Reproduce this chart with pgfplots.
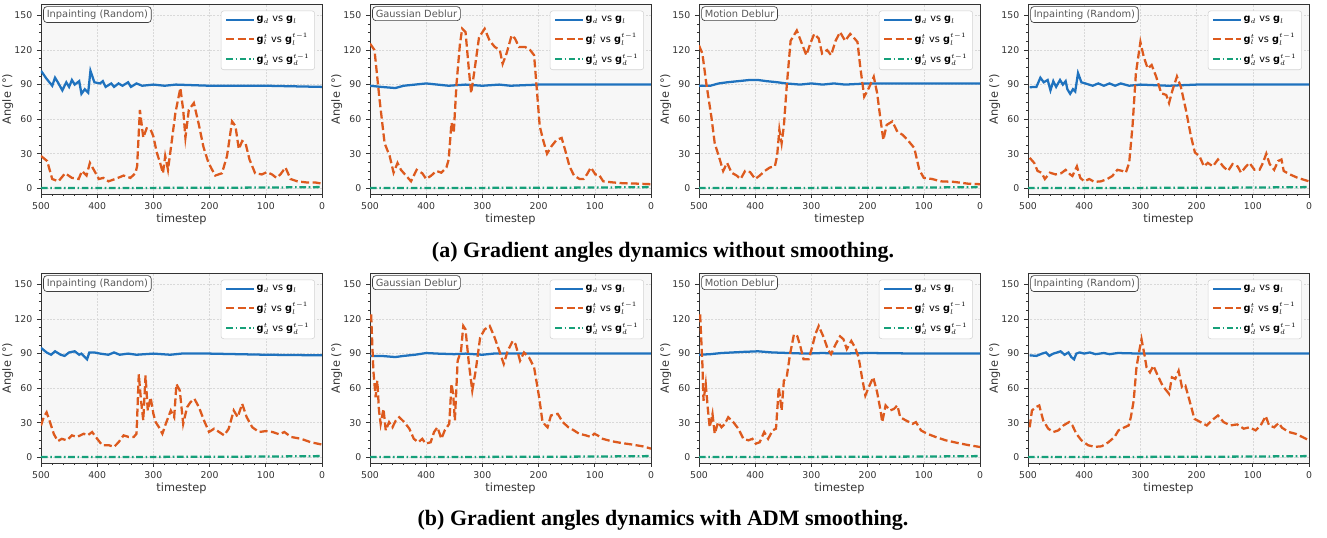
\documentclass[border=0pt]{standalone}
\usepackage{pgfplots}
\pgfplotsset{compat=1.18}
\usepackage{fontspec}
\setmainfont{DejaVu Sans}
\newfontfamily\capfont{Liberation Serif}
\definecolor{cblue}{HTML}{1F72BE}
\definecolor{corange}{HTML}{DD5A1E}
\definecolor{cgreen}{HTML}{16A07A}
\definecolor{axbg}{HTML}{F7F7F7}
\definecolor{tickc}{HTML}{333333}
\pgfplotsset{
  panel/.style={
    scale only axis, width=210.75pt, height=142.5pt,
    xmin=0, xmax=500, x dir=reverse, ymin=-5, ymax=160,
    xtick={0,100,...,500}, ytick={0,30,...,150},
    minor x tick num=4, minor y tick num=3,
    tick align=outside, tick pos=left,
    major tick length=3pt, minor tick length=1.6pt,
    every tick/.style={tickc, line width=0.5pt},
    axis line style={tickc, line width=0.6pt},
    axis background/.style={fill=axbg},
    grid=major, major grid style={gray!30, dash pattern=on 1.5pt off 1pt, line width=0.4pt},
    ticklabel style={font=\fontsize{7}{8}\selectfont, text=tickc},
    /pgf/number format/assume math mode=true,
    xlabel={timestep}, ylabel={Angle (°)},
    label style={font=\fontsize{8.5}{9}\selectfont, text=tickc},
    xlabel shift=-4pt, ylabel shift=-6pt,
    legend style={at={(0.975,0.965)}, anchor=north east, font=\fontsize{7.3}{8}\selectfont,
      draw=gray!35, rounded corners=2pt, fill=white, row sep=5.2pt, inner sep=3pt,
      legend cell align=left, nodes={inner sep=1pt}},
    legend image code/.code={\draw[#1] (0pt,0pt) -- (21pt,0pt);},
  },
  sblue/.style={cblue, line width=1.7pt, solid},
  sorange/.style={corange, line width=1.7pt, dash pattern=on 6pt off 2.6pt},
  sgreen/.style={cgreen, line width=1.7pt, dash pattern=on 5pt off 2pt on 1.2pt off 2pt},
}
\newcommand{\greenline}{\addplot[sgreen] coordinates {(500,0.2)(450,0.2)(400,0.25)(350,0.3)(300,0.3)(250,0.35)(200,0.4)(150,0.5)(100,0.6)(50,0.8)(0,1)};}
\newcommand{\leg}{\legend{$\mathbf{g}_d$ vs $\mathbf{g}_l$, $\mathbf{g}_l^t$ vs $\mathbf{g}_l^{t-1}$, $\mathbf{g}_d^t$ vs $\mathbf{g}_d^{t-1}$}}
\newcommand{\ttl}[1]{\node[anchor=north west, draw=black!75, rounded corners=2.5pt, fill=white, text=black!65, font=\fontsize{7.4}{8}\selectfont, inner sep=2.4pt, line width=0.5pt] at (rel axis cs:0.008,0.988) {#1};}
\begin{document}
\begin{tikzpicture}
\path[use as bounding box] (0,0) rectangle (995.25pt,403.5pt);
% ---------- Row a ----------
\begin{axis}[panel, at={(30.75pt,258pt)}, anchor=south west]
\addplot[sblue] coordinates {(500,102)(490,95)(480,89)(475,96)(470,92)(462,85)(455,92)(450,88)(445,94)(440,90)(432,93)(428,82)(422,86)(416,83)(412,102)(405,92)(395,91)(390,93)(385,88)(375,91)(370,88)(362,91)(355,89)(345,92)(340,88)(330,91)(320,89)(300,90)(280,89)(260,90)(200,89)(100,89)(0,88)};
\addplot[sorange] coordinates {(500,28)(489,23.6)(480,8)(469,6)(457,13)(445,9)(433,8)(427,15)(419,11)(413,22)(406,16)(397,8)(389,9)(380,6)(368,8)(353,11)(341,9)(332,13)(329,19)(324,68)(318,44)(312,52)(305,51)(300,45)(294,31)(288,22)(283,13)(279,28)(274,16)(267,42)(261,65)(252,87)(247,68)(243,44)(237,68)(228,74)(219,55)(211,36)(202,22)(190,11)(178,13)(169,28)(160,58)(154,54)(148,34)(142,41)(136,39)(129,25)(119,13)(107,12)(98,14)(89,12)(81,9)(74,12)(65,18)(56,8)(44,6)(27,5)(12,5)(0,4)};
\greenline
\leg
\ttl{Inpainting (Random)}
\end{axis}
\begin{axis}[panel, at={(277.5pt,258pt)}, anchor=south west]
\addplot[sblue] coordinates {(500,89)(480,88)(455,87)(440,89)(420,90)(400,91)(380,90)(360,89)(330,90)(300,89)(270,90)(250,89)(200,90)(100,90)(0,90)};
\addplot[sorange] coordinates {(500,125.6)(492,120)(483,77)(474,39)(465,28)(458,13.5)(451,22)(445,16)(436,11)(427,6)(417,16)(407,13)(400,8)(391,11)(382,15)(373,13.5)(364,18)(360,25)(355,57)(351,48)(346,91)(340,125)(336,138.5)(330,135.6)(324,102.6)(320,82.5)(314,102.6)(306,131)(296,138.5)(287,128)(278,122.7)(269,120)(264,108)(257,117)(248,132.8)(242,130)(235,122.7)(224,122.7)(215,120)(208,115.5)(204,91)(198,54)(192,42)(185,30)(177,36.5)(168,42)(159,43.7)(153,33.6)(145,19)(137,11)(127,8)(120,8)(114,12)(107,18)(99,12)(93,12)(85,6)(67,5)(49,4.3)(25,4)(0,3.5)};
\greenline
\leg
\ttl{Gaussian Deblur}
\end{axis}
\begin{axis}[panel, at={(524.25pt,258pt)}, anchor=south west]
\addplot[sblue] coordinates {(500,89)(480,89)(465,91)(450,92)(430,93)(410,94)(395,94)(380,93)(360,92)(345,91)(320,90)(300,91)(280,90)(260,91)(240,90)(200,91)(100,91)(0,91)};
\addplot[sorange] coordinates {(500,124)(494,117)(487,91)(478,62)(472,39)(463,25)(457,15)(450,22)(442,13.5)(433,11)(426,8)(418,15)(409,14)(400,8)(392,11)(383,15)(374,18)(365,19)(361,28)(357,51)(353,39)(349,54)(344,88)(337,128)(326,137)(317,125.6)(309,115.5)(302,125.6)(295,134)(287,130)(281,117)(272,120)(265,115.5)(257,128)(249,135.6)(240,128)(231,134)(225,131)(218,127)(213,105)(206,79.6)(198,86.8)(189,96.8)(183,82.5)(177,59.5)(172,42)(166,55)(156,58)(147,49)(138,46.5)(129,42)(117,35)(108,16)(100,9)(85,8)(70,6)(46,5.5)(22,4)(0,3.5)};
\greenline
\leg
\ttl{Motion Deblur}
\end{axis}
\begin{axis}[panel, at={(771pt,258pt)}, anchor=south west]
\addplot[sblue] coordinates {(497,87.6)(490,88)(485,88)(478,96)(472,92)(465,94)(460,85)(455,93)(450,88)(443,94)(438,90)(433,93)(430,86)(425,82)(420,86)(416,84)(411,100)(405,92)(398,91)(385,89)(375,91)(365,89)(355,91)(345,89)(335,91)(320,89)(300,90)(250,89)(200,90)(0,90)};
\addplot[sorange] coordinates {(497,26.4)(489,22)(483,15)(476,13.5)(470,8)(461,13.5)(451,12)(441,13)(433,16)(425,12)(421,10.6)(413,19)(407,9)(400,6)(391,8)(382,5.5)(370,6)(359,8)(350,10.6)(341,16)(332,15)(326,13.5)(320,22)(314,54)(308,100)(300,127)(294,114)(287,104)(280,107)(272,97)(263,82.5)(254,81)(249,74)(243,85)(235,97)(228,88)(219,68)(210,45)(203,31)(195,28)(187,19)(180,22)(171,19)(162,25)(153,19)(144,15)(136,21)(127,19)(121,13.5)(112,19)(106,22)(97,16)(88,16)(82,22)(76,30)(70,21)(62,16)(55,23.6)(49,25)(45,15)(34,12)(20,9)(0,6)};
\greenline
\leg
\ttl{Inpainting (Random)}
\end{axis}
% ---------- Row b ----------
\begin{axis}[panel, at={(30.75pt,56.25pt)}, anchor=south west]
\addplot[sblue] coordinates {(500,95)(490,91)(482,89)(475,92)(465,89)(458,88)(450,91)(440,92)(432,89)(428,90)(422,87)(418,85)(414,91)(405,91)(395,90)(380,89)(370,91)(360,89)(345,90)(330,89)(300,90)(270,89)(250,90)(200,90)(100,89)(0,88.5)};
\addplot[sorange] coordinates {(500,27.6)(495,35)(490,39)(485,32)(477,20)(470,14)(463,16)(454,14.7)(445,19)(436,17.6)(424,20.4)(417,19)(409,21.9)(400,16)(391,10.4)(379,10.4)(370,9)(362,13)(353,19)(344,17.6)(335,17.6)(330,20.4)(326,72)(322,49)(318,32)(314,71)(310,40.6)(305,52)(300,37.7)(296,30.5)(290,26)(284,20.4)(278,29)(269,40.6)(263,34.8)(259,63.6)(253,57.9)(247,29)(240,43.5)(234,47.8)(227,50.7)(219,43.5)(210,32)(201,21.9)(192,24.8)(183,21.9)(174,19)(166,24.8)(157,40.6)(150,34.8)(142,46.4)(134,34.8)(124,26)(112,21.9)(100,22.7)(88,21.9)(76,19.9)(67,21.9)(55,17.6)(37,16)(20,13)(0,11)};
\greenline
\leg
\ttl{Inpainting (Random)}
\end{axis}
\begin{axis}[panel, at={(277.5pt,56.25pt)}, anchor=south west]
\addplot[sblue] coordinates {(500,88)(480,88)(455,87)(440,88)(420,89)(400,90.5)(380,90)(350,89.5)(330,90)(300,89)(280,90)(200,90)(0,90)};
\addplot[sorange] coordinates {(498,124)(494,75)(490,52)(487,66.5)(484,40.6)(481,29)(476,42)(472,23.3)(466,30.5)(460,26)(454,32)(448,34.8)(439,30.5)(430,24.8)(422,16)(414,13)(407,16)(401,11.8)(392,13)(386,21.9)(380,26)(373,16)(367,23.3)(359,29)(355,63.6)(352,55)(349,32)(344,83.8)(338,92.4)(334,114)(330,111)(324,81)(318,57.9)(312,75)(304,104)(296,111)(287,114)(279,105)(270,92.4)(262,81)(255,92.4)(246,101)(241,98)(233,83.8)(226,91)(217,86.7)(208,78)(199,52)(193,30.5)(184,26)(178,36.3)(166,37.7)(157,30.5)(147,26)(137,23.3)(128,20.4)(116,19)(107,17.6)(101,20.4)(95,19)(86,16)(71,14)(53,12.4)(36,11.2)(15,9.5)(0,7.5)};
\greenline
\leg
\ttl{Gaussian Deblur}
\end{axis}
\begin{axis}[panel, at={(524.25pt,56.25pt)}, anchor=south west]
\addplot[sblue] coordinates {(500,89)(480,89.5)(460,90.5)(440,91)(420,91.5)(395,92)(370,91)(340,90.5)(310,90)(280,90.5)(250,90)(200,90.5)(100,90)(0,90)};
\addplot[sorange] coordinates {(498,124)(494,81)(492,49)(488,63.6)(484,40.6)(481,26)(476,37.7)(472,20.4)(466,30.5)(460,26)(454,29)(448,34.8)(439,30.5)(430,24.8)(421,16)(412,14.7)(405,16)(399,11.8)(392,13)(384,21.9)(377,16)(369,23.3)(363,24.8)(358,60.8)(353,40.6)(349,66.5)(344,69.4)(338,89.5)(331,106.8)(325,105)(319,95)(314,85)(305,85)(299,95)(293,106.8)(287,114)(278,104)(271,93.9)(265,89.5)(257,98)(249,105)(243,102.5)(237,93.9)(229,101)(222,95)(216,86.7)(210,69.4)(204,53.6)(198,60.8)(190,69.4)(183,56.4)(177,40.6)(174,30.5)(168,45)(160,40.6)(153,42)(147,45)(142,34.8)(132,32)(120,29)(114,30.5)(105,23.3)(94,20.4)(79,17.6)(61,14.7)(40,12.4)(19,10.4)(0,8.9)};
\greenline
\leg
\ttl{Motion Deblur}
\end{axis}
\begin{axis}[panel, at={(771pt,56.25pt)}, anchor=south west]
\addplot[sblue] coordinates {(497,88.5)(485,88)(475,90)(468,91)(462,88)(455,90)(448,91)(442,92)(435,89)(428,91)(423,87)(418,85)(414,90)(408,91)(400,90)(390,91)(380,89.5)(365,90.5)(355,89.5)(340,90.5)(300,90)(0,90)};
\addplot[sorange] coordinates {(497,26)(493,40.6)(486,43.5)(480,45)(473,32)(464,24.8)(455,21.9)(446,23.3)(437,27.6)(427,30.5)(421,27.6)(414,20.4)(405,14.7)(393,10.4)(381,9)(369,9.5)(357,13)(346,17.6)(339,23.3)(330,25.6)(321,27.6)(317,34.8)(312,49)(307,78)(302,92.4)(298,102.5)(293,89.5)(289,78)(283,73.7)(277,79.5)(269,70.8)(262,63.6)(256,59.3)(249,55)(244,69.4)(238,68)(232,75)(226,60.8)(220,62.2)(211,46.4)(204,33.4)(193,30.5)(182,27.6)(173,32)(162,36.3)(152,30.5)(140,27.6)(128,28.5)(116,24.8)(106,26)(95,23.3)(86,27.6)(77,35.7)(71,27.6)(62,26)(54,29.7)(48,25.6)(36,21.9)(24,20.4)(12,17.6)(0,14.7)};
\greenline
\leg
\ttl{Inpainting (Random)}
\end{axis}
% ---------- Captions ----------
\node[font=\capfont\bfseries\fontsize{16.5}{18}\selectfont] at (497.25pt,214pt) {(a) Gradient angles dynamics without smoothing.};
\node[font=\capfont\bfseries\fontsize{16.5}{18}\selectfont] at (497.25pt,13pt) {(b) Gradient angles dynamics with ADM smoothing.};
\end{tikzpicture}
\end{document}
